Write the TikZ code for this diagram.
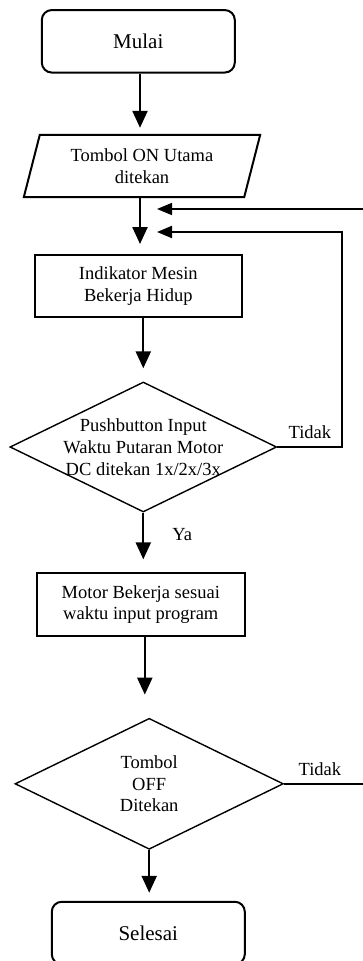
\documentclass[tikz,border=0pt]{standalone}
\usepackage{fontspec}
\setmainfont{Liberation Serif}
\usetikzlibrary{calc,positioning,arrows.meta,shapes.geometric}

\begin{document}
\begin{tikzpicture}[x=1pt,y=1pt,
  txt/.style={font=\fontsize{18.5}{21.7}\selectfont,align=center},
  terminal/.style={draw,line width=2pt,rounded corners=10pt,minimum width=193pt,minimum height=62.5pt,font=\fontsize{21}{25}\selectfont},
  procbox/.style={draw,line width=2pt,minimum height=62.3pt,txt},
  iobox/.style={minimum width=220pt,minimum height=62pt,txt},
  decision/.style={draw,diamond,line width=1.4pt,inner sep=0pt},
  flow/.style={line width=2.3pt,-{Triangle[length=17pt,width=15pt]}},
  loop/.style={line width=2pt,-{Triangle[length=15pt,width=12pt]}},
  tidak/.style={txt,inner sep=0pt,above=7pt}
]

\useasboundingbox (0,0) rectangle (363,-961);
\clip (0,0) rectangle (363,-961);

\node[terminal] (mulai) at (138.3,-41.3) {Mulai};
\node[iobox] (tombol) at (142,-166) {Tombol ON Utama\\ditekan};
\draw[line width=2pt] ([xshift=8pt]tombol.north west) -- ([xshift=8pt]tombol.north east) -- ([xshift=-8pt]tombol.south east) -- ([xshift=-8pt]tombol.south west) -- cycle;
\node[procbox,minimum width=206.7pt] (indikator) at (138.3,-286.2) {Indikator Mesin\\Bekerja Hidup};
\node[decision,minimum width=266.7pt,minimum height=130pt,label={[txt]center:{Pushbutton Input\\Waktu Putaran Motor\\DC ditekan 1x/2x/3x}}] (pilih) at (143.3,-447) {};
\node[procbox,minimum width=208.3pt] (motor) at (140.8,-604.5) {Motor Bekerja sesuai\\waktu input program};
\node[decision,minimum width=268.3pt,minimum height=131pt,label={[txt]center:{Tombol\\OFF\\Ditekan}}] (off) at (149.2,-783.8) {};
\node[terminal] (selesai) at (148.3,-933) {Selesai};

\coordinate (balik1) at (157,-232);
\coordinate (balik2) at (157,-209);

\draw[flow,shorten >=7pt] ([xshift=1.7pt]mulai.south) -- ([xshift=1.7pt]mulai.south |- tombol.north);
\draw[flow,shorten >=10pt] ([xshift=1.7pt]mulai.south |- tombol.south) -- ([xshift=1.7pt]mulai.south |- indikator.north);
\draw[flow,shorten >=13pt] (indikator.south -| pilih.north) -- (pilih.north);
\draw[flow,shorten >=13pt] (pilih.south) -- (pilih.south |- motor.north) node[txt,inner sep=0pt,pos=0.36,right=28pt] {Ya};
\draw[flow,shorten >=23pt] ([xshift=4pt]motor.south) -- ([xshift=4pt]motor.south |- off.north);
\draw[flow,shorten >=8pt] (off.south) -- (off.south |- selesai.north);

\draw[loop] (pilih.east) -- ++(65,0) node[tidak,midway] {Tidak} |- (balik1);
\draw[loop,line width=1.6pt] (off.east) -- ++(92,0) node[tidak,pos=0.39] {Tidak} |- (balik2);
\end{tikzpicture}
\end{document}
